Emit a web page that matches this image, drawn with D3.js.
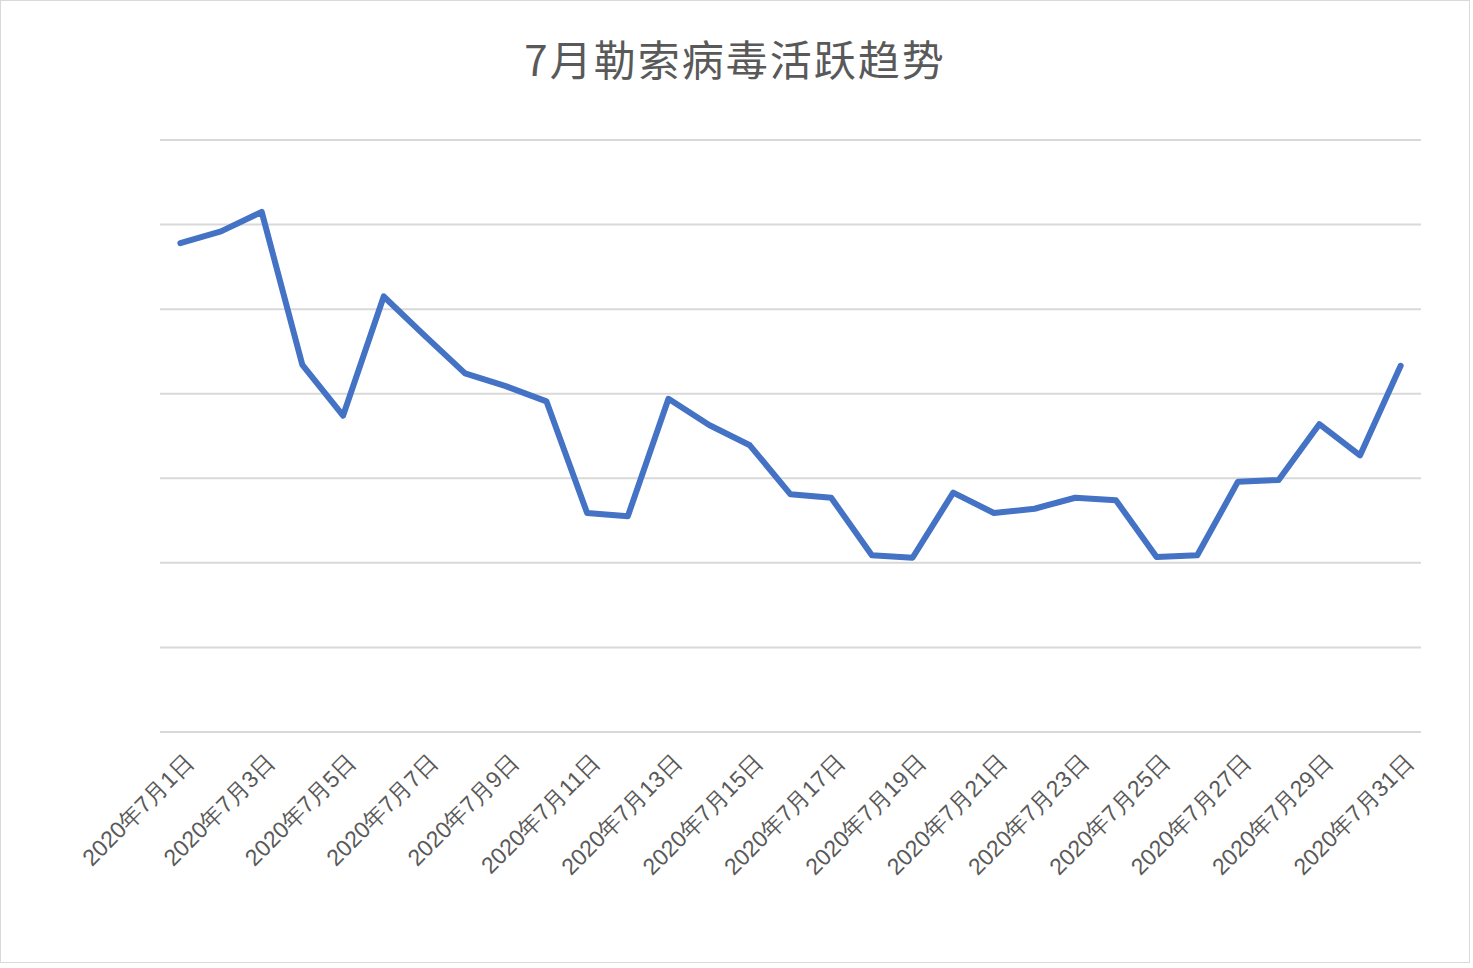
<!DOCTYPE html>
<html>
<head>
<meta charset="utf-8">
<script src="https://d3js.org/d3.v7.min.js"></script>
<style>
  body { margin: 0; background: #fff; }
  svg { font-family: "Noto Sans CJK SC", "Noto Sans", sans-serif; }
</style>
</head>
<body>
<script>
// July daily activity (y axis unlabeled in the source; values read on a 0-70 grid)
const days = d3.range(1, 32);
const labels = days.map(d => '2020年7月' + d + '日');
const values = [57.8, 59.2, 61.5, 43.4, 37.4, 51.5, 46.9, 42.4, 40.9, 39.1,
                25.9, 25.5, 39.4, 36.3, 33.9, 28.1, 27.7, 20.9, 20.6, 28.3,
                25.9, 26.4, 27.7, 27.4, 20.7, 20.9, 29.6, 29.8, 36.4, 32.7, 43.3];
const gridTicks = [0, 10, 20, 30, 40, 50, 60, 70];

const w = 1473, h = 968;
const plotLeft = 160, plotRight = 1421, plotTop = 140, plotBottom = 732;

const svg = d3.select('body').append('svg').attr('width', w).attr('height', h);

svg.append('rect')
   .attr('x', 0.5).attr('y', 0.5).attr('width', w - 4).attr('height', h - 6)
   .attr('fill', '#fff').attr('stroke', '#d9d9d9');

const x = d3.scalePoint().domain(labels).range([plotLeft, plotRight]).padding(0.5);
const y = d3.scaleLinear().domain([0, 70]).range([plotBottom, plotTop]);

svg.append('g')
   .selectAll('line')
   .data(gridTicks)
   .join('line')
   .attr('x1', plotLeft).attr('x2', plotRight)
   .attr('y1', d => y(d)).attr('y2', d => y(d))
   .attr('stroke', '#d9d9d9').attr('stroke-width', 2);

const xAxis = d3.axisBottom(x)
   .tickValues(labels.filter((d, i) => i % 2 === 0))
   .tickSize(0);
const gx = svg.append('g')
   .attr('transform', 'translate(0,' + plotBottom + ')')
   .call(xAxis);
gx.select('.domain').remove();
gx.selectAll('text')
   .attr('fill', '#595959')
   .style('font-size', '23px')
   .attr('text-anchor', 'end')
   .attr('dy', 0)
   .attr('transform', 'translate(12,30) rotate(-45)');

const line = d3.line()
   .x((d, i) => x(labels[i]))
   .y(d => y(d));

svg.append('path')
   .datum(values)
   .attr('d', line)
   .attr('fill', 'none')
   .attr('stroke', '#4472c4')
   .attr('stroke-width', 6)
   .attr('stroke-linejoin', 'round')
   .attr('stroke-linecap', 'round');

svg.append('text')
   .attr('x', 735).attr('y', 76)
   .attr('text-anchor', 'middle')
   .attr('fill', '#595959')
   .style('font-size', '42px')
   .style('letter-spacing', '2px')
   .text('7月勒索病毒活跃趋势');
</script>
</body>
</html>
